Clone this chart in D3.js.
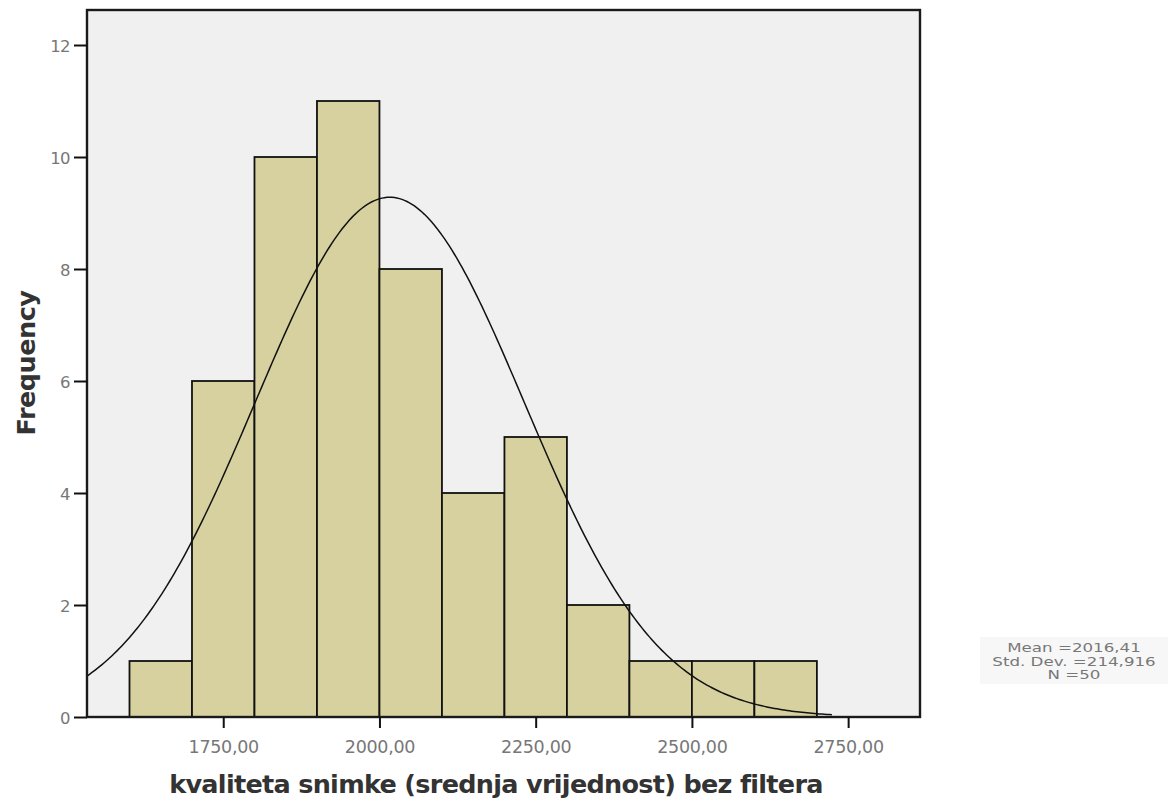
<!DOCTYPE html>
<html lang="en">
<head>
<meta charset="UTF-8">
<title>Histogram</title>
<script src="https://cdn.jsdelivr.net/npm/d3@7/dist/d3.min.js"></script>
<style>
  body { margin: 0; background: #fff; }
  text { font-family: "DejaVu Sans", Verdana, sans-serif; }
</style>
</head>
<body>
<svg width="1176" height="802"></svg>
<script>
    // histogram bins (lower edge, upper edge, count)
    let binStarts = [1600, 1700, 1800, 1900, 2000, 2100, 2200, 2300, 2400, 2500, 2600]
    let binEnds   = [1700, 1800, 1900, 2000, 2100, 2200, 2300, 2400, 2500, 2600, 2700]
    let counts    = [1, 6, 10, 11, 8, 4, 5, 2, 1, 1, 1]
    let xTicks = [1750, 2000, 2250, 2500, 2750]
    let yTicks = [0, 2, 4, 6, 8, 10, 12]
    // summary stats shown in the legend, used for the normal curve
    let mean = 2016.41
    let sd = 214.916
    let n = 50
    let statLines = ['Mean =2016,41', 'Std. Dev. =214,916', 'N =50']

    let svg = d3.select('svg');
    let pLeft = 87, pRight = 920, pTop = 10, pBottom = 717;

    let x = d3.scaleLinear().domain([1532, 2865]).range([pLeft, pRight])
    let y = d3.scaleLinear().domain([0, (pBottom - pTop) / 56]).range([pBottom, pTop])

    // plot background
    svg.append('rect')
        .attr('x', pLeft).attr('y', pTop)
        .attr('width', pRight - pLeft).attr('height', pBottom - pTop)
        .attr('fill', '#f0f0f0')

    // bars
    svg.append('g').selectAll('rect')
        .data(counts)
        .enter()
        .append('rect')
        .attr('x', (d, i) => x(binStarts[i]))
        .attr('width', (d, i) => x(binEnds[i]) - x(binStarts[i]))
        .attr('y', d => y(d))
        .attr('height', d => y(0) - y(d))
        .attr('fill', '#d6d19f')
        .attr('stroke', '#111')
        .attr('stroke-width', 1.8)

    // fitted normal curve
    let binW = 100
    let xs = d3.range(1532, 2727, 4)
    let curve = xs.map(v => [v, n * binW * Math.exp(-0.5 * ((v - mean) / sd) ** 2) / (sd * Math.sqrt(2 * Math.PI))])
    svg.append('path')
        .datum(curve)
        .attr('fill', 'none')
        .attr('stroke', '#111')
        .attr('stroke-width', 1.5)
        .attr('d', d3.line().x(d => x(d[0])).y(d => y(d[1])))

    // frame
    svg.append('rect')
        .attr('x', pLeft).attr('y', pTop)
        .attr('width', pRight - pLeft).attr('height', pBottom - pTop)
        .attr('fill', 'none')
        .attr('stroke', '#1a1a1a')
        .attr('stroke-width', 2.4)

    // axes
    let xAxis = svg.append('g')
        .attr('transform', `translate(0,${pBottom})`)
        .call(d3.axisBottom(x).tickValues(xTicks).tickSize(11).tickSizeOuter(0)
            .tickFormat(d => d3.format('.2f')(d).replace('.', ',')))
    xAxis.select('.domain').remove()
    xAxis.selectAll('line').attr('stroke', '#111').attr('stroke-width', 2)
    xAxis.selectAll('text').attr('fill', '#777').attr('font-size', 17.5)
        .attr('y', 36).attr('dy', 0)
        .style('letter-spacing', '-0.3px')

    let yAxis = svg.append('g')
        .attr('transform', `translate(${pLeft},0)`)
        .call(d3.axisLeft(y).tickValues(yTicks).tickSize(13).tickSizeOuter(0))
    yAxis.select('.domain').remove()
    yAxis.selectAll('line').attr('stroke', '#111').attr('stroke-width', 2)
    yAxis.selectAll('text').attr('fill', '#777').attr('font-size', 16.5)
        .attr('x', -17).attr('dy', '0.38em')
        .style('letter-spacing', '-0.6px')

    // axis titles
    svg.append('text')
        .attr('transform', 'translate(35,363) rotate(-90)')
        .attr('text-anchor', 'middle')
        .attr('font-size', 25.5)
        .attr('font-weight', 'bold')
        .attr('fill', '#333')
        .style('letter-spacing', '-0.5px')
        .text('Frequency')

    svg.append('text')
        .attr('x', 496).attr('y', 793)
        .attr('text-anchor', 'middle')
        .attr('font-size', 25.5)
        .attr('font-weight', 'bold')
        .attr('fill', '#333')
        .style('letter-spacing', '-0.7px')
        .text('kvaliteta snimke (srednja vrijednost) bez filtera')

    // stats box
    svg.append('rect')
        .attr('x', 980).attr('y', 637).attr('width', 188).attr('height', 47)
        .attr('fill', '#f7f7f7')
    svg.append('g').selectAll('text')
        .data(statLines)
        .enter()
        .append('text')
        .attr('transform', (d, i) => `translate(1074,${652 + i * 13.5}) scale(1.45,1)`)
        .attr('text-anchor', 'middle')
        .attr('font-size', 11.5)
        .attr('fill', '#777')
        .text(d => d)
</script>
</body>
</html>
